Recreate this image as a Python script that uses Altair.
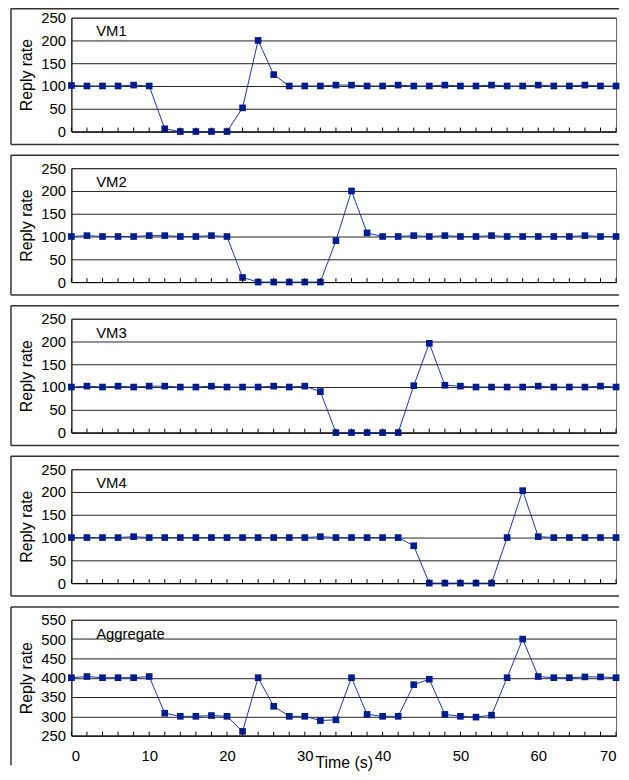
import altair as alt
import pandas as pd

# ---------------- data ----------------
time_s = list(range(0, 71, 2))

vm1 = [101, 100, 100, 100, 102, 100, 6, 0, 0, 0, 0, 52, 200, 125, 100, 100,
       100, 102, 102, 100, 100, 102, 100, 100, 102, 100, 100, 102, 100, 100,
       102, 100, 100, 102, 100, 100]
vm2 = [100, 102, 100, 100, 100, 102, 102, 100, 100, 102, 100, 10, 0, 0, 0, 0,
       0, 91, 200, 108, 100, 100, 102, 100, 102, 100, 100, 102, 100, 100,
       100, 100, 100, 102, 100, 100]
vm3 = [100, 102, 100, 102, 100, 102, 102, 100, 100, 102, 100, 100, 100, 102, 100, 102,
       90, 0, 0, 0, 0, 0, 103, 196, 104, 102, 100, 100, 100, 100,
       102, 100, 100, 100, 102, 100]
vm4 = [100, 100, 100, 100, 102, 100, 100, 100, 100, 100, 100, 100, 100, 100, 100, 100,
       102, 100, 100, 100, 100, 100, 82, 0, 0, 0, 0, 0, 100, 203,
       102, 100, 100, 100, 100, 100]
aggregate = [400, 403, 400, 400, 400, 403, 308, 300, 300, 302, 300, 261, 400, 326, 300, 300,
             289, 291, 400, 305, 300, 300, 382, 396, 305, 300, 298, 303, 400, 500,
             403, 400, 400, 402, 402, 400]

panel_labels = ["VM1", "VM2", "VM3", "VM4", "Aggregate"]
x_tick_labels = [0, 10, 20, 30, 40, 50, 60, 70]
vm_y_ticks = [0, 50, 100, 150, 200, 250]
agg_y_ticks = [250, 300, 350, 400, 450, 500, 550]

# ---------------- style ----------------
FONT = "Liberation Sans"
W = 550
H = 115
HA = 117
LINE_COLOR = "#1A35A8"
MARK_COLOR = "#001C8E"
FRAME_COLOR = "#333"


def panel(values, label, yticks, h, first=False, last=False):
    df = pd.DataFrame({"t": time_s, "v": values})
    xscale = alt.Scale(domain=[0, 70], nice=False, zero=False)
    yscale = alt.Scale(domain=[yticks[0], yticks[-1]], nice=False, zero=False)
    if last:
        xaxis = alt.Axis(values=x_tick_labels, title="Time (s)", labelFontSize=15,
                         labelPadding=13, labelFlush=4, ticks=False, grid=False,
                         domainColor="black", labelColor="black", titleFontSize=16,
                         titlePadding=-9, titleFontWeight="normal", titleColor="black")
    else:
        xaxis = alt.Axis(labels=False, ticks=False, grid=False, title=None,
                         domainColor="black")
    yaxis = alt.Axis(values=yticks, title="Reply rate", ticks=False, grid=True,
                     gridColor="#222", gridWidth=1, domainColor="black",
                     labelFontSize=15, labelPadding=6, labelColor="black",
                     titleFontSize=16, titlePadding=6, titleFontWeight="normal",
                     titleColor="black")

    one = pd.DataFrame({"a": [0]})
    top = -9 if first else -13
    bottom = h + 13
    left_bottom = h + 30 if last else bottom
    frame_left = alt.Chart(one).mark_rule(color=FRAME_COLOR, strokeWidth=1.5).encode(
        x=alt.value(-61), y=alt.value(top), y2=alt.value(left_bottom))
    frame_top = alt.Chart(one).mark_rule(color=FRAME_COLOR, strokeWidth=1.5).encode(
        x=alt.value(-61), x2=alt.value(W + 3), y=alt.value(top))
    layers = [frame_left, frame_top]
    if not last:
        frame_bottom = alt.Chart(one).mark_rule(color=FRAME_COLOR, strokeWidth=1.5).encode(
            x=alt.value(-61), x2=alt.value(W + 3), y=alt.value(bottom))
        layers.append(frame_bottom)

    base = alt.Chart(df).encode(
        x=alt.X("t:Q", scale=xscale, axis=xaxis),
        y=alt.Y("v:Q", scale=yscale, axis=yaxis),
    )
    line = base.mark_line(color=LINE_COLOR, strokeWidth=1)
    pts = base.mark_point(shape="square", filled=True, size=45, color=MARK_COLOR,
                          opacity=1)

    ticks = alt.Chart(pd.DataFrame({"t": time_s})).mark_rule(
        color="black", strokeWidth=1).encode(
        x=alt.X("t:Q", scale=xscale), y=alt.value(h), y2=alt.value(h - 4))

    txt = alt.Chart(one).mark_text(align="left", baseline="middle", fontSize=15,
                                   font=FONT, color="black").encode(
        x=alt.value(25), y=alt.value(14), text=alt.value(label))

    layers += [line, pts, ticks, txt]
    return alt.layer(*layers).properties(width=W, height=h)


panels = [
    panel(vm1, panel_labels[0], vm_y_ticks, H, first=True),
    panel(vm2, panel_labels[1], vm_y_ticks, H),
    panel(vm3, panel_labels[2], vm_y_ticks, H),
    panel(vm4, panel_labels[3], vm_y_ticks, H),
    panel(aggregate, panel_labels[4], agg_y_ticks, HA, last=True),
]

chart = alt.vconcat(*panels, spacing=7).properties(
    padding={"left": 1, "top": -5, "right": 0, "bottom": 0}
).configure(font=FONT).configure_view(stroke="#666", strokeWidth=1)

chart.save("out.html", embed_options={"renderer": "svg", "actions": False})
